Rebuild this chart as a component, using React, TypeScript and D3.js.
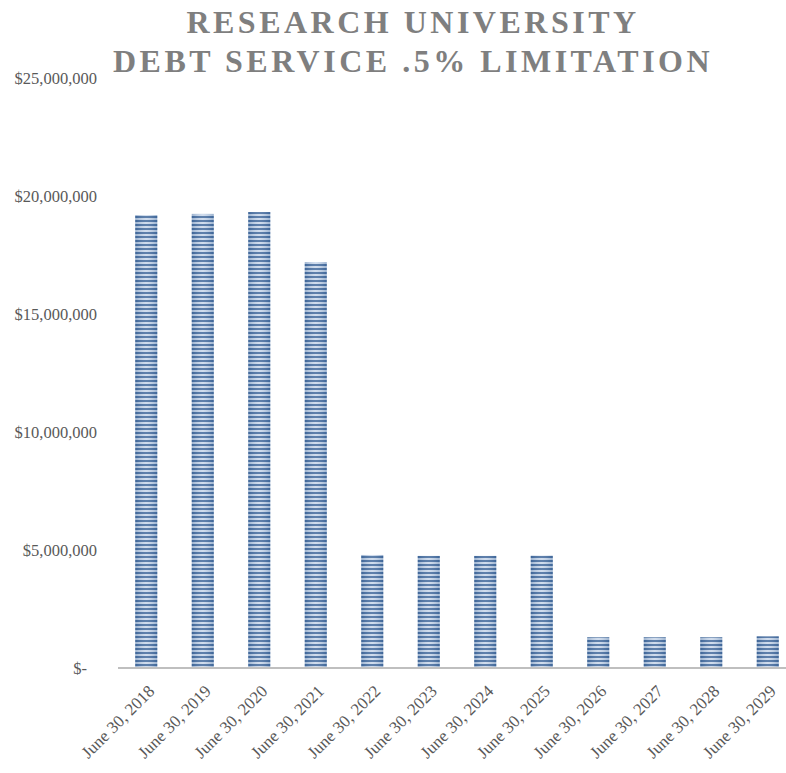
import { useMemo } from 'react'
import { scaleBand, scaleLinear } from 'd3'

// Research University debt service vs .5% limitation — single bar series, Excel-style striped fill.

const CATEGORIES = [
  'June 30, 2018',
  'June 30, 2019',
  'June 30, 2020',
  'June 30, 2021',
  'June 30, 2022',
  'June 30, 2023',
  'June 30, 2024',
  'June 30, 2025',
  'June 30, 2026',
  'June 30, 2027',
  'June 30, 2028',
  'June 30, 2029',
]
const VALUES = [
  19190000, 19240000, 19320000, 17200000, 4790000, 4750000, 4750000, 4760000, 1300000, 1300000, 1300000,
  1340000,
]
const Y_TICKS = [0, 5000000, 10000000, 15000000, 20000000, 25000000]
const TITLE_LINES = ['RESEARCH UNIVERSITY', 'DEBT SERVICE .5% LIMITATION']

const W = 786
const H = 773
const X0 = 118
const X1 = 796
const Y_ZERO = 668
const Y_TOP = 78
const FONT = '"Liberation Serif", "DejaVu Serif", serif'

const fmt = (v: number) => (v === 0 ? '$-' : '$' + v.toLocaleString('en-US'))

export default function App() {
  const x = useMemo(() => scaleBand().domain(CATEGORIES).range([X0, X1]).paddingInner(0.61).paddingOuter(0.305), [])
  const y = useMemo(() => scaleLinear().domain([0, 25000000]).range([Y_ZERO, Y_TOP]), [])

  return (
    <svg width={W} height={H} style={{ position: 'absolute', left: 0, top: 0 }} fontFamily={FONT}>
      <defs>
        <pattern id="stripes" width="4" height="4" patternUnits="userSpaceOnUse">
          <rect width="4" height="4" fill="#c9d7ea" />
          <rect width="4" height="2" fill="#42699c" />
        </pattern>
        <linearGradient id="sheen" x1="0" x2="1" y1="0" y2="0">
          <stop offset="0" stopColor="#2f5a8e" stopOpacity="0.3" />
          <stop offset="0.5" stopColor="#ffffff" stopOpacity="0.15" />
          <stop offset="1" stopColor="#2f5a8e" stopOpacity="0.3" />
        </linearGradient>
      </defs>
      <rect width={W} height={H} fill="#fff" />

      {TITLE_LINES.map((t, i) => (
        <text
          key={t}
          x={413}
          y={33 + i * 39}
          textAnchor="middle"
          fontSize={32}
          fontWeight="bold"
          letterSpacing={3.5}
          fill="#7f7f7f"
        >
          {t}
        </text>
      ))}

      {Y_TICKS.map((t) => (
        <text
          key={t}
          x={t === 0 ? 87 : 97}
          y={y(t)}
          dy="0.35em"
          textAnchor="end"
          fontSize={16.5}
          fill="#595959"
        >
          {fmt(t)}
        </text>
      ))}

      {CATEGORIES.map((c, i) => {
        const bx = x(c) ?? 0
        const top = y(VALUES[i])
        return (
          <g key={c}>
            <rect x={bx} y={top} width={x.bandwidth()} height={Y_ZERO - top} fill="url(#stripes)" />
            <rect x={bx} y={top} width={x.bandwidth()} height={Y_ZERO - top} fill="url(#sheen)" />
          </g>
        )
      })}

      <line x1={X0} x2={W} y1={Y_ZERO} y2={Y_ZERO} stroke="#bfbfbf" strokeWidth={2} />

      {CATEGORIES.map((c) => {
        const cx = (x(c) ?? 0) + x.bandwidth() / 2 + 5
        return (
          <text
            key={c}
            transform={`translate(${cx}, ${Y_ZERO + 20}) rotate(-45)`}
            textAnchor="end"
            dy="0.35em"
            fontSize={17}
            fill="#595959"
          >
            {c}
          </text>
        )
      })}
    </svg>
  )
}
